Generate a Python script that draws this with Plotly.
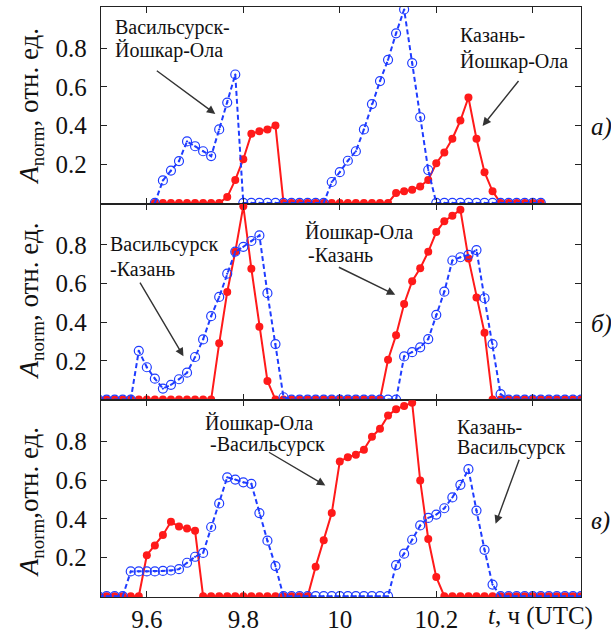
import plotly.graph_objects as go
from plotly.subplots import make_subplots

# ---------------- data (sampling grid: minutes since 00:00 UTC, 1-min step) ----------------
min_a = list(range(577, 626))    # panel a: 9:37 .. 10:25
min_bc = list(range(570, 631))   # panels б, в: 9:30 .. 10:30

# panel a
a_vas_yo = [0, 0.116, 0.167, 0.216, 0.318, 0.293, 0.267, 0.242, 0.38, 0.519, 0.664, 0,
            0, 0, 0, 0, 0, 0, 0, 0, 0, 0,
            0.108, 0.159, 0.218, 0.267, 0.38, 0.511, 0.63, 0.74, 0.877, 1.0, 0.723, 0.443, 0.17, 0,
            0, 0, 0, 0, 0, 0, 0, 0, 0, 0, 0, 0, 0]
a_kaz_yo = [0, 0, 0, 0, 0, 0, 0, 0, 0,
            0.03, 0.119, 0.226, 0.357, 0.371, 0.38, 0.40,
            0, 0, 0, 0, 0, 0, 0, 0, 0, 0, 0, 0, 0, 0,
            0.051, 0.06, 0.068, 0.085, 0.119, 0.205, 0.261, 0.332, 0.426, 0.545, 0.332, 0.159, 0.06,
            0, 0, 0, 0, 0, 0]
# panel б
b_vas_kaz = [0, 0, 0, 0, 0,
             0.252, 0.167, 0.108, 0.057, 0.076, 0.105, 0.139, 0.22, 0.311, 0.431, 0.531, 0.651,
             0.765, 0.79, 0.82, 0.849, 0.55, 0.287, 0.012,
             0, 0, 0, 0, 0, 0, 0, 0, 0, 0, 0, 0, 0, 0,
             0.223, 0.245, 0.27, 0.313, 0.438, 0.558, 0.719, 0.736, 0.748, 0.773, 0.524, 0.287, 0.028,
             0, 0, 0, 0, 0, 0, 0, 0, 0, 0]
b_yo_kaz = [0, 0, 0, 0, 0, 0, 0, 0, 0, 0, 0, 0, 0, 0, 0,
            0.291, 0.556, 0.765, 1.0, 0.677, 0.376, 0.096,
            0, 0, 0, 0, 0, 0, 0, 0, 0, 0, 0, 0, 0, 0,
            0.206, 0.333, 0.494, 0.612, 0.679, 0.764, 0.866, 0.922, 0.951, 0.981, 0.73, 0.528, 0.345,
            0, 0, 0, 0, 0, 0, 0, 0, 0, 0, 0, 0]
# panel в
c_kaz_vas = [0, 0, 0, 0,
             0.128, 0.128, 0.128, 0.128, 0.131, 0.133, 0.14, 0.173, 0.204, 0.224, 0.358, 0.48,
             0.615, 0.603, 0.589, 0.581, 0.43, 0.287, 0.156,
             0, 0, 0, 0, 0, 0, 0, 0, 0, 0, 0, 0, 0, 0,
             0.161, 0.22, 0.292, 0.366, 0.405, 0.422, 0.455, 0.511, 0.576, 0.657, 0.443, 0.24, 0.06,
             0, 0, 0, 0, 0, 0, 0, 0, 0, 0, 0]
c_yo_vas = [0, 0, 0, 0, 0, 0,
            0.212, 0.262, 0.317, 0.385, 0.36, 0.35, 0.338,
            0, 0, 0, 0, 0, 0, 0, 0, 0, 0, 0, 0, 0, 0,
            0.153, 0.29, 0.43, 0.697, 0.719, 0.732, 0.758, 0.825, 0.866, 0.934, 0.967, 0.984, 1.0,
            0.598, 0.296, 0.099,
            0, 0, 0, 0, 0, 0, 0, 0, 0, 0, 0, 0, 0, 0, 0, 0, 0, 0]

x_tickvals = [9.6, 9.8, 10.0, 10.2, 10.4]
x_ticktext = ["9.6", "9.8", "10", "10.2", ""]
y_tickvals = [0.2, 0.4, 0.6, 0.8]
y_ticktext = ["0.2", "0.4", "0.6", "0.8"]
panel_labels = ["а)", "б)", "в)"]

assert len(a_vas_yo) == len(min_a) and len(a_kaz_yo) == len(min_a)
for s in (b_vas_kaz, b_yo_kaz, c_kaz_vas, c_yo_vas):
    assert len(s) == len(min_bc), len(s)

t_a = [m / 60 for m in min_a]
t_bc = [m / 60 for m in min_bc]

# ---------------- figure ----------------
W, H = 611, 639
ML, MR, MT, MB = 101, 30, 6, 36
FONT = "Times New Roman"
INK = "#111111"
RED = "#ff1a1a"
BLUE = "#1f3cff"


def px_x(px):
    return (px - ML) / (W - ML - MR)


def px_y(py):
    return (H - MB - py) / (H - MT - MB)


fig = make_subplots(rows=3, cols=1, shared_xaxes=True, vertical_spacing=0)

panels = [(t_a, a_kaz_yo, a_vas_yo), (t_bc, b_yo_kaz, b_vas_kaz), (t_bc, c_yo_vas, c_kaz_vas)]
for i, (tt, red_s, blue_s) in enumerate(panels, start=1):
    fig.add_trace(go.Scatter(x=tt, y=red_s, mode="lines+markers",
                             line=dict(color=RED, width=2),
                             marker=dict(symbol="circle", size=8, color=RED)), row=i, col=1)
    fig.add_trace(go.Scatter(x=tt, y=blue_s, mode="lines+markers",
                             line=dict(color=BLUE, width=2, dash="5px,3px"),
                             marker=dict(symbol="circle-open-dot", size=9, color=BLUE,
                                         line=dict(width=1.2, color=BLUE))), row=i, col=1)

axis_common = dict(showline=True, linecolor="#222", linewidth=1.3, mirror="ticks",
                   ticks="inside", ticklen=6, tickcolor="#222", showgrid=False, zeroline=False,
                   tickfont=dict(family=FONT, size=25, color=INK))
for i in range(1, 4):
    fig.update_xaxes(range=[9.505, 10.5], tickvals=x_tickvals, ticktext=x_ticktext,
                     row=i, col=1, **axis_common)
    fig.update_yaxes(range=[-0.004, 1.013], tickvals=y_tickvals, ticktext=y_ticktext,
                     ticklabelstandoff=8, row=i, col=1, **axis_common)
fig.update_xaxes(ticklabelstandoff=0, row=3, col=1)

ann = []

# axis titles (one per panel)
for yc, sep in [(107, ", "), (304, ", "), (507, ",")]:
    ann.append(dict(xref="paper", yref="paper", x=px_x(31), y=px_y(yc), textangle=-90,
                    text="<i>A</i><sub>norm</sub>" + sep + "отн. ед.", showarrow=False,
                    xanchor="center", yanchor="middle",
                    font=dict(family=FONT, size=27, color=INK)))
ann.append(dict(xref="paper", yref="paper", x=px_x(486), y=px_y(622),
                text="<i>t</i>, ч (UTC)", showarrow=False, xanchor="left", yanchor="middle",
                font=dict(family=FONT, size=25, color=INK)))
# panel letters
for i, lab in enumerate(panel_labels, start=1):
    ann.append(dict(xref="paper", yref="y" if i == 1 else f"y{i}", x=px_x(589), y=0.39,
                    text=f"<i>{lab}</i>", showarrow=False, xanchor="left", yanchor="middle",
                    font=dict(family=FONT, size=25, color=INK)))

# labels
labels = [("Васильсурск-", 113, 27), ("Йошкар-Ола", 113, 50),
          ("Казань-", 458, 34), ("Йошкар-Ола", 458, 61),
          ("Васильсурск", 108, 246), ("-Казань", 108, 271),
          ("Йошкар-Ола", 303, 234), ("-Казань", 306, 257),
          ("Йошкар-Ола", 203, 427), ("-Васильсурск", 208, 449),
          ("Казань-", 455, 431), ("Васильсурск", 455, 452)]
for text, lx, ly in labels:
    ann.append(dict(xref="paper", yref="paper", x=px_x(lx), y=px_y(ly), text=text,
                    showarrow=False, xanchor="left", yanchor="middle",
                    font=dict(family=FONT, size=20, color=INK)))

# arrows (head -> tail), in panel data coordinates
arrows = [(1, 9.742, 0.46, 9.6176, 0.689),
          (1, 10.296, 0.398, 10.373, 0.638),
          (2, 9.676, 0.224, 9.584, 0.612),
          (2, 10.115, 0.542, 9.995, 0.688),
          (3, 9.97, 0.573, 9.85, 0.749),
          (3, 10.323, 0.375, 10.373, 0.714)]
for p, hx, hy, tx, ty in arrows:
    xr = "x" if p == 1 else f"x{p}"
    yr = "y" if p == 1 else f"y{p}"
    ann.append(dict(xref=xr, yref=yr, axref=xr, ayref=yr, x=hx, y=hy, ax=tx, ay=ty,
                    text="", showarrow=True, arrowhead=2, arrowsize=1.2, arrowwidth=1.4,
                    arrowcolor="#333", standoff=0))

fig.update_layout(width=W, height=H, margin=dict(l=ML, r=MR, t=MT, b=MB),
                  plot_bgcolor="white", paper_bgcolor="white", showlegend=False,
                  annotations=ann, font=dict(family=FONT, color=INK))

fig.write_html("out.html", config={"displayModeBar": False},
               post_script="document.body.style.margin='0px';")
